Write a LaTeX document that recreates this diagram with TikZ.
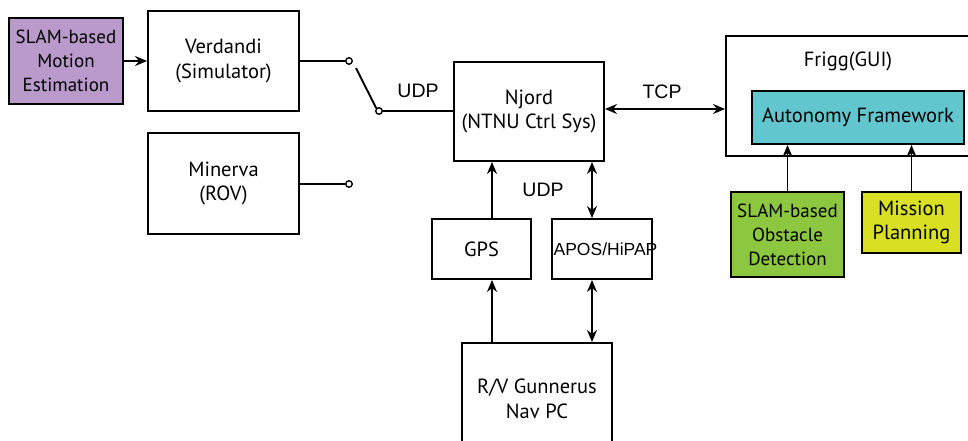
\documentclass[tikz,border=0pt]{standalone}
\usepackage{fontspec}
\setmainfont{PT Sans}
\newfontfamily\labelfont{Liberation Sans}
\usetikzlibrary{arrows.meta}
\definecolor{slampurple}{RGB}{185,154,203}
\definecolor{autocyan}{RGB}{98,198,207}
\definecolor{obsgreen}{RGB}{141,198,63}
\definecolor{missyellow}{RGB}{217,223,34}
\tikzset{
  blk/.style={draw=black, line width=1.9pt, fill=white, align=center, inner sep=0pt,
    font=\fontsize{20.5}{24.5}\selectfont},
  smalltext/.style={font=\fontsize{19}{24}\selectfont},
  lbl/.style={font=\labelfont\fontsize{19.5}{22}\selectfont, inner sep=0pt},
  conn/.style={line width=1.9pt},
  arr/.style={conn, -{Stealth[length=12pt,width=10pt]}},
  darr/.style={conn, {Stealth[length=12pt,width=10pt]}-{Stealth[length=12pt,width=10pt]}},
  pin/.style={circle, draw=black, line width=1.4pt, fill=white, minimum size=6.5pt, inner sep=0pt},
}
\begin{document}
\begin{tikzpicture}[x=1pt,y=-1pt]
\useasboundingbox (0,0) rectangle (968,441);

% blocks on the left
\node[blk, smalltext, fill=slampurple, minimum width=114pt, minimum height=86pt] (slam) at (66,61)
  {SLAM-based\\Motion\\Estimation};
\node[blk, minimum width=151pt, minimum height=100pt] (verd) at (223.5,61)
  {Verdandi\\(Simulator)};
\node[blk, minimum width=151pt, minimum height=101pt] (minerva) at (223.5,183.5)
  {Minerva\\(ROV)};

% control system and sensors
\node[blk, minimum width=150pt, minimum height=99pt] (njord) at (529,111.5)
  {Njord\\(NTNU Ctrl Sys)};
\node[blk, minimum width=99pt, minimum height=60pt] (gps) at (481.5,249) {GPS};
\node[blk, minimum width=100pt, minimum height=60pt] (apos) at (602,249) {};
\node[lbl, font=\labelfont\fontsize{17.5}{20}\selectfont] (apostxt) at (605.5,249) {APOS/HiPAP};
\node[blk, minimum width=150pt, minimum height=112pt] (nav) at (537,399)
  {R/V Gunnerus\\Nav PC};

% GUI with the autonomy framework inside
\node[blk, minimum width=246pt, minimum height=120pt] (frigg) at (849,96) {};
\node[font=\fontsize{20.5}{24.5}\selectfont, inner sep=0pt] (friggtxt) at (848,61) {Frigg(GUI)};
\node[blk, fill=autocyan, minimum width=212pt, minimum height=53pt] (auto) at (858,117.5)
  {Autonomy Framework};
\node[blk, smalltext, fill=obsgreen, minimum width=113pt, minimum height=85pt] (obst) at (787.5,234.5)
  {SLAM-based\\Obstacle\\Detection};
\node[blk, fill=missyellow, minimum width=99pt, minimum height=61pt] (miss) at (911.5,222.5)
  {Mission\\Planning};

% switch contacts
\node[pin] (sw1) at (349,61) {};
\node[pin] (sw2) at (379,111) {};
\node[pin] (sw3) at (349,184) {};
\coordinate (armstart) at (356,68);

% column positions of the vertical links
\coordinate (colA) at (492,0);
\coordinate (colB) at (592,0);

% connectors
\draw[arr] (slam.east) -- (verd.west);
\draw[conn] (verd.east) -- (sw1.west);
\draw[conn] (minerva.east |- sw3) -- (sw3.west);
\draw[conn] (armstart) -- (sw2.north west);
\draw[conn] (sw2.east) -- (sw2 -| njord.west);
\draw[darr] (njord.east |- 0,109) -- (frigg.west |- 0,109);
\draw[arr] (gps.north -| colA) -- (njord.south -| colA);
\draw[darr] (apos.north -| colB) -- (njord.south -| colB);
\draw[arr] (nav.north -| colA) -- (gps.south -| colA);
\draw[darr] (nav.north -| colB) -- (apos.south -| colB);
\draw[arr] (obst.north) -- (obst.north |- auto.south);
\draw[arr] (miss.north) -- (miss.north |- auto.south);

% link labels
\node[lbl] (udp1) at (418,91) {UDP};
\node[lbl] (udp2) at (543,190) {UDP};
\node[lbl] (tcp) at (662,92) {TCP};
\end{tikzpicture}
\end{document}
